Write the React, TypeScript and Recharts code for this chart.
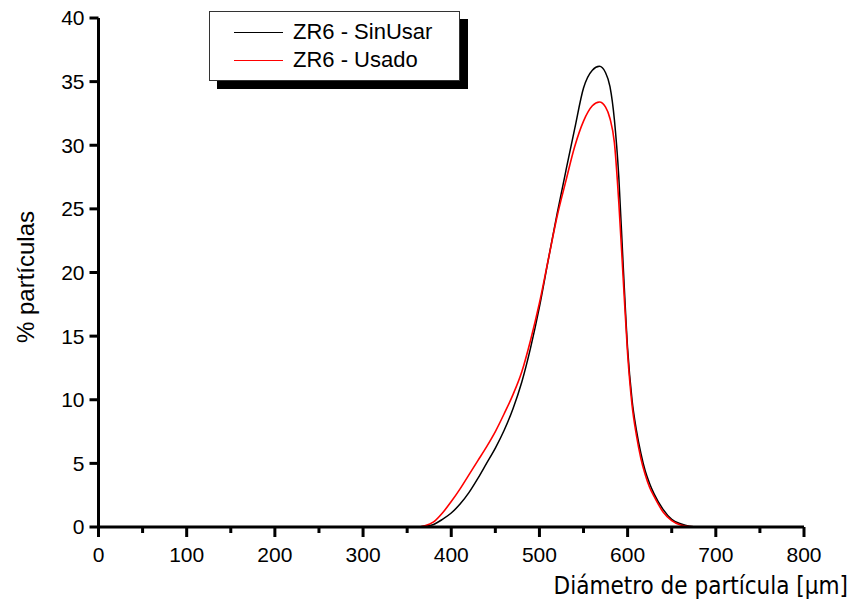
import { LineChart, Line, XAxis, YAxis, Legend } from 'recharts'

// particle diameter [µm]
const diameters = [
  0, 50, 100, 150, 200, 250, 300, 350, 360, 370, 380, 390, 400, 410, 420, 430, 440, 450,
  460, 470, 480, 490, 500, 510, 520, 530, 540, 550, 560, 568, 575, 580, 585, 590, 595,
  600, 605, 610, 615, 620, 625, 630, 640, 650, 660, 670, 680, 690, 700, 705,
]

// % of particles, unused sample
const sinUsar = [
  0, 0, 0, 0, 0, 0, 0, 0, 0, 0.05, 0.2, 0.6, 1.1, 1.8, 2.7, 3.8, 5.0, 6.2,
  7.6, 9.3, 11.4, 14.1, 17.3, 21.0, 24.6, 28.0, 31.3, 34.5, 35.9, 36.2, 35.7, 34.6, 32.0, 27.5, 20.5,
  14.0, 10.0, 7.6, 5.8, 4.4, 3.4, 2.6, 1.4, 0.6, 0.25, 0.05, 0, 0, 0, 0,
]

// % of particles, used sample
const usado = [
  0, 0, 0, 0, 0, 0, 0, 0, 0, 0.1, 0.4, 1.1, 2.0, 3.0, 4.1, 5.2, 6.3, 7.5,
  8.9, 10.4, 12.2, 14.7, 17.6, 21.0, 24.4, 27.2, 29.9, 31.9, 33.1, 33.4, 33.0, 32.1, 30.2, 25.5, 19.5,
  13.6, 9.6, 7.2, 5.4, 4.1, 3.1, 2.4, 1.2, 0.5, 0.15, 0.03, 0, 0, 0, 0,
]

const xTicks = [0, 50, 100, 150, 200, 250, 300, 350, 400, 450, 500, 550, 600, 650, 700, 750, 800]
const yTicks = [0, 5, 10, 15, 20, 25, 30, 35, 40]

const rows = diameters.map((d, i) => ({ d, sinUsar: sinUsar[i], usado: usado[i] }))

const FONT = '"Liberation Sans", Arial, sans-serif'

// major ticks every 100 with a label, minor ones at the 50s
const XTick = (props: any) => {
  const { x, y, payload } = props
  const major = payload.value % 100 === 0
  return (
    <g>
      <line x1={x} x2={x} y1={y} y2={y + (major ? 10 : 6)} stroke="#000" strokeWidth={3} />
      {major && (
        <text x={x} y={y + 35} textAnchor="middle" fontSize={21} fontFamily={FONT} fill="#000">
          {payload.value}
        </text>
      )}
    </g>
  )
}

const LegendBox = (props: any) => {
  const items = props.payload || []
  return (
    <div
      style={{
        width: 251,
        height: 70,
        boxSizing: 'border-box',
        border: '1px solid #333',
        background: '#fff',
        boxShadow: '8px 8px 0 #000',
        paddingTop: 6,
        fontFamily: FONT,
        fontSize: 22,
      }}
    >
      {items.map((it: any) => (
        <div key={it.value} style={{ display: 'flex', alignItems: 'center', height: 28 }}>
          <span style={{ display: 'inline-block', width: 49, height: 0, borderTop: `1.5px solid ${it.color}`, marginLeft: 24, marginRight: 10 }} />
          <span style={{ color: '#000' }}>{it.value}</span>
        </div>
      ))}
    </div>
  )
}

export default function App() {
  return (
    <div style={{ position: 'absolute', left: 0, top: 0, background: '#fff' }}>
      <LineChart width={852} height={605} data={rows} margin={{ top: 18, right: 48, left: 0, bottom: 8 }}>
        <XAxis
          dataKey="d"
          type="number"
          domain={[0, 800]}
          ticks={xTicks}
          interval={0}
          tickLine={false}
          tickSize={0}
          tickMargin={0}
          tick={<XTick />}
          height={70}
          axisLine={{ stroke: '#000', strokeWidth: 3 }}
          label={{
            content: () => (
              <text x={848} y={594} textAnchor="end" fontSize={24} fontFamily='"DejaVu Sans Condensed", "DejaVu Sans", sans-serif' fill="#000">
                Diámetro de partícula [μm]
              </text>
            ),
          }}
        />
        <YAxis
          type="number"
          domain={[0, 40]}
          ticks={yTicks}
          interval={0}
          width={98.5}
          tickSize={9}
          tickMargin={5}
          tickLine={{ stroke: '#000', strokeWidth: 3 }}
          axisLine={{ stroke: '#000', strokeWidth: 3 }}
          tick={{ fontSize: 21, fontFamily: FONT, fill: '#000' }}
          label={{
            content: () => (
              <text x={34} y={277} transform="rotate(-90 34 277)" textAnchor="middle" fontSize={24} fontFamily={FONT} fill="#000">
                % partículas
              </text>
            ),
          }}
        />
        <Legend
          verticalAlign="middle"
          align="center"
          layout="vertical"
          content={<LegendBox />}
          wrapperStyle={{ left: 209, top: 11, width: 'auto' }}
        />
        <Line type="monotone" dataKey="sinUsar" name="ZR6 - SinUsar" stroke="#000" strokeWidth={1.5} dot={false} isAnimationActive={false} />
        <Line type="monotone" dataKey="usado" name="ZR6 - Usado" stroke="#ff0000" strokeWidth={1.6} dot={false} isAnimationActive={false} />
      </LineChart>
    </div>
  )
}
